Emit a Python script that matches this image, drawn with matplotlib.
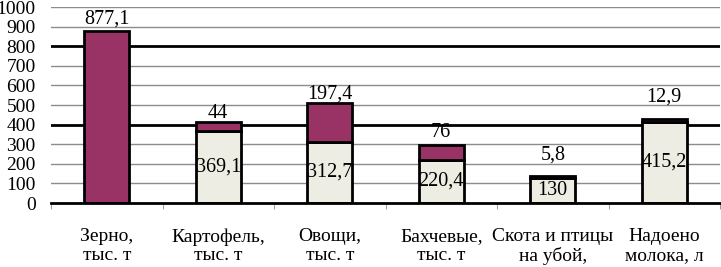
import matplotlib.pyplot as plt
import numpy as np

# данные
categories = ["Зерно,\nтыс. т", "Картофель,\nтыс. т", "Овощи,\nтыс. т",
              "Бахчевые,\nтыс. т", "Скота и птицы\nна убой,", "Надоено\nмолока, л"]
bottom_vals = [0, 369.1, 312.7, 220.4, 130, 415.2]
top_vals = [877.1, 44, 197.4, 76, 5.8, 12.9]
bottom_labels = ["", "369,1", "312,7", "220,4", "130", "415,2"]
top_labels = ["877,1", "44", "197,4", "76", "5,8", "12,9"]

# смещение подписей над столбцами (в пикселях)
top_offsets = [3, -1, -1, 3, 12, 13]

plt.rcParams['font.family'] = ['Liberation Serif', 'DejaVu Serif']

fig = plt.figure(figsize=(7.21, 2.67), dpi=100)
ax = fig.add_axes([51 / 721, 1 - 203 / 267, 669 / 721, 196 / 267])

x = np.arange(len(categories))
maroon = "#993366"
cream = "#EEEDE3"

ax.set_ylim(0, 1000)
ax.set_xlim(-0.5, len(categories) - 0.5)
yt = np.arange(0, 1001, 100)
ax.set_yticks(yt)
ax.set_yticklabels([str(v) for v in yt], fontsize=14)
for v in yt[1:]:
    if v in (400, 800):
        ax.axhline(v, color="black", lw=2, zorder=1)
    else:
        ax.axhline(v, color="#8c8c8c", lw=1, zorder=1)

ax.bar(x, bottom_vals, width=0.4, color=cream, edgecolor="black", lw=2, zorder=3)
ax.bar(x, top_vals, width=0.4, bottom=bottom_vals, color=maroon,
       edgecolor="black", lw=2, zorder=3)

for i in range(len(categories)):
    if bottom_labels[i]:
        ax.text(x[i], bottom_vals[i] / 2, bottom_labels[i], ha="center",
                va="center", fontsize=14.5, zorder=4)
    ax.annotate(top_labels[i], (x[i], bottom_vals[i] + top_vals[i]),
                xytext=(0, top_offsets[i]), textcoords="offset pixels",
                ha="center", va="bottom", fontsize=14.5, zorder=4)

ax.set_xticks(x)
ax.set_xticklabels(categories, fontsize=14, linespacing=1.15)
ax.tick_params(axis="x", length=0, pad=18)
ax.set_xticks(np.arange(-0.5, len(categories)), minor=True)
ax.tick_params(axis="x", which="minor", length=4, color="#8c8c8c")
ax.tick_params(axis="y", length=0, pad=11)

for s in ["top", "right", "left"]:
    ax.spines[s].set_visible(False)
ax.spines["bottom"].set_color("black")
ax.spines["bottom"].set_linewidth(2)
ax.spines["bottom"].set_zorder(5)

fig.savefig("out.png", dpi=100)
